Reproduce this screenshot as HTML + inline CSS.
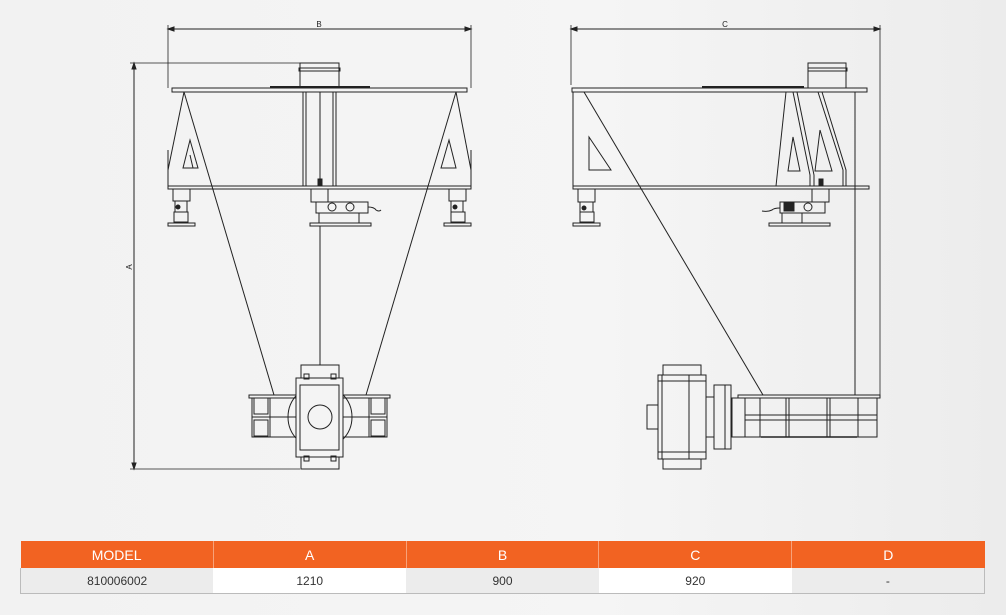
<!DOCTYPE html>
<html><head><meta charset="utf-8"><style>
html,body{margin:0;padding:0;}
body{width:1006px;height:615px;overflow:hidden;background:linear-gradient(90deg,#f2f2f2 0%,#f5f5f5 60%,#ececec 100%);font-family:"Liberation Sans",sans-serif;position:relative;}
svg{position:absolute;left:0;top:0;}
table{position:absolute;left:20px;top:541px;width:965px;border-collapse:collapse;table-layout:fixed;}
th{background:#f26322;color:#fff;font-weight:normal;font-size:14px;height:27px;padding:0;border-right:1px solid #f7a27a;}
td{height:25px;font-size:12px;color:#333;text-align:center;padding:0;border-bottom:1px solid #bbb;}
td.g{background:#ececec;} td.w{background:#fff;}
tr td:first-child{border-left:1px solid #bbb;} tr td:last-child{border-right:1px solid #bbb;}
</style></head><body>
<svg width="1006" height="615" viewBox="0 0 1006 615" fill="none" stroke="#222" stroke-width="1">
<!-- LEFT VIEW dims -->
<line x1="168" y1="29" x2="471" y2="29"/>
<line x1="168" y1="25" x2="168" y2="88" stroke-width="0.8"/>
<line x1="471" y1="25" x2="471" y2="88" stroke-width="0.8"/>
<path d="M168 29 l6 -2 v4z M471 29 l-6 -2 v4z" fill="#222"/>
<text x="319" y="27" font-size="8" fill="#222" stroke="none" text-anchor="middle" font-family="Liberation Sans">B</text>
<line x1="134" y1="63" x2="134" y2="469"/>
<line x1="130" y1="63" x2="300" y2="63" stroke-width="0.8"/>
<line x1="130" y1="469" x2="300" y2="469" stroke-width="0.8"/>
<path d="M134 63 l-2 6 h4z M134 469 l-2 -6 h4z" fill="#222"/>
<text x="132" y="267" font-size="8" fill="#222" stroke="none" text-anchor="middle" transform="rotate(-90 132 267)" font-family="Liberation Sans">A</text>
<!-- top -->
<rect x="300" y="63" width="39" height="25"/><rect x="299" y="68" width="41" height="3"/>
<rect x="172" y="88" width="295" height="4"/>
<line x1="270" y1="87" x2="370" y2="87" stroke-width="2"/>
<!-- body -->
<line x1="168" y1="150" x2="168" y2="187"/><line x1="471" y1="150" x2="471" y2="187"/>
<line x1="184" y1="92" x2="168" y2="170"/><line x1="456" y1="92" x2="471" y2="170"/>
<path d="M183 168 L190 140 L198 168 Z M193 168 L190 155" />
<path d="M456 168 L449 140 L441 168 Z"/>
<rect x="168" y="186" width="303" height="3"/>
<rect x="303" y="92" width="3" height="94"/><rect x="333" y="92" width="3" height="94"/>
<line x1="320" y1="92" x2="320" y2="186"/><rect x="318" y="179" width="4" height="7" fill="#222"/>
<line x1="184" y1="92" x2="274" y2="395"/><line x1="456" y1="92" x2="366" y2="395"/>
<!-- feet -->
<rect x="173" y="189" width="17" height="12"/><rect x="175" y="201" width="12" height="11"/><rect x="174" y="212" width="14" height="10"/><rect x="168" y="223" width="27" height="3"/><circle cx="178" cy="207" r="2" fill="#222"/>
<rect x="449" y="189" width="17" height="12"/><rect x="451" y="201" width="12" height="11"/><rect x="451" y="212" width="14" height="10"/><rect x="444" y="223" width="27" height="3"/><circle cx="455" cy="207" r="2" fill="#222"/>
<rect x="311" y="189" width="17" height="13"/><rect x="316" y="202" width="52" height="11"/><circle cx="332" cy="207" r="4"/><circle cx="350" cy="207" r="4"/><rect x="319" y="213" width="40" height="10"/><rect x="310" y="223" width="61" height="3"/>
<path d="M368 207 q6 0 8 3 q3 2 5 0"/>
<line x1="320" y1="226" x2="320" y2="365"/>
<!-- bottom motor left -->
<rect x="301" y="365" width="38" height="13"/>
<rect x="249" y="395" width="141" height="3"/>
<rect x="252" y="398" width="45" height="39"/><line x1="252" y1="417" x2="297" y2="417"/><line x1="270" y1="398" x2="270" y2="437"/><rect x="254" y="398" width="14" height="16"/><rect x="254" y="420" width="14" height="16"/>
<rect x="343" y="398" width="44" height="39"/><line x1="343" y1="417" x2="387" y2="417"/><line x1="369" y1="398" x2="369" y2="437"/><rect x="371" y="398" width="14" height="16"/><rect x="371" y="420" width="14" height="16"/>
<circle cx="320" cy="417" r="32"/>
<rect x="296" y="378" width="47" height="79" fill="#f4f4f4"/><rect x="300" y="385" width="39" height="65"/>
<rect x="304" y="374" width="5" height="5"/><rect x="331" y="374" width="5" height="5"/><rect x="304" y="456" width="5" height="5"/><rect x="331" y="456" width="5" height="5"/>
<circle cx="320" cy="417" r="12"/>
<rect x="301" y="457" width="38" height="12"/>
<!-- RIGHT VIEW -->
<line x1="571" y1="29" x2="880" y2="29"/>
<line x1="571" y1="25" x2="571" y2="85" stroke-width="0.8"/>
<line x1="880" y1="25" x2="880" y2="395" stroke-width="0.8"/>
<path d="M571 29 l6 -2 v4z M880 29 l-6 -2 v4z" fill="#222"/>
<text x="725" y="27" font-size="8" fill="#222" stroke="none" text-anchor="middle" font-family="Liberation Sans">C</text>
<rect x="808" y="63" width="38" height="25"/><rect x="808" y="68" width="39" height="3"/>
<rect x="572" y="88" width="295" height="4"/>
<line x1="702" y1="87" x2="804" y2="87" stroke-width="2"/>
<line x1="573" y1="92" x2="573" y2="186"/>
<line x1="855" y1="92" x2="855" y2="395"/>
<rect x="573" y="186" width="296" height="3"/>
<path d="M589 137 L589 170 L611 170 Z"/>
<line x1="786" y1="92" x2="776" y2="186"/>
<path d="M793 92 L810 175 L810 186 M797 92 L814 175 L814 186"/>
<path d="M818 92 L843 170 L843 186 M822 92 L846 170 L846 186"/>
<path d="M788 171 L793 137 L800 171 Z M815 171 L820 130 L832 171 Z"/>
<rect x="819" y="179" width="4" height="7" fill="#222"/>
<line x1="584" y1="92" x2="763" y2="395"/>
<rect x="578" y="189" width="17" height="13"/><rect x="580" y="202" width="13" height="10"/><rect x="580" y="212" width="14" height="10"/><rect x="573" y="223" width="27" height="3"/><circle cx="584" cy="208" r="2" fill="#222"/>
<rect x="812" y="189" width="17" height="13"/><rect x="780" y="202" width="45" height="11"/><circle cx="808" cy="207" r="4"/><rect x="784" y="202" width="10" height="9" fill="#222"/><rect x="782" y="213" width="20" height="10"/><rect x="769" y="223" width="61" height="3"/>
<path d="M780 208 q-6 0 -8 2 q-4 2 -10 1"/>
<!-- bottom right -->
<rect x="738" y="395" width="142" height="3"/>
<rect x="732" y="398" width="145" height="39"/>
<line x1="745" y1="398" x2="745" y2="437"/><line x1="760" y1="398" x2="760" y2="437"/><line x1="786" y1="398" x2="786" y2="437"/><line x1="789" y1="398" x2="789" y2="437"/><line x1="827" y1="398" x2="827" y2="437"/><line x1="830" y1="398" x2="830" y2="437"/><line x1="858" y1="398" x2="858" y2="437"/>
<line x1="745" y1="415" x2="877" y2="415"/><line x1="745" y1="420" x2="877" y2="420"/>
<line x1="761" y1="437" x2="857" y2="437" stroke-width="1.5"/>
<rect x="706" y="397" width="8" height="40"/>
<rect x="714" y="385" width="17" height="64"/><line x1="725" y1="385" x2="725" y2="449"/>
<rect x="658" y="375" width="48" height="84"/><line x1="662" y1="375" x2="662" y2="459"/><line x1="689" y1="375" x2="689" y2="459"/><line x1="658" y1="381" x2="706" y2="381"/><line x1="658" y1="452" x2="706" y2="452"/>
<rect x="663" y="365" width="38" height="10"/><rect x="663" y="459" width="38" height="10"/>
<rect x="647" y="405" width="11" height="24"/>
</svg>
<table><tr><th>MODEL</th><th>A</th><th>B</th><th>C</th><th style="border-right:none">D</th></tr>
<tr><td class="g">810006002</td><td class="w">1210</td><td class="g">900</td><td class="w">920</td><td class="g">-</td></tr></table>
</body></html>
